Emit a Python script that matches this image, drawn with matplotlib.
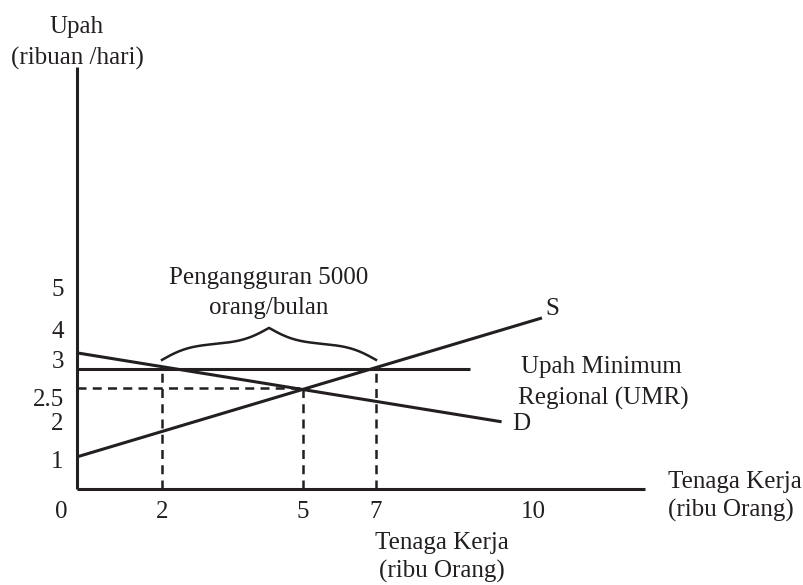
import matplotlib
matplotlib.use("Agg")
import matplotlib.pyplot as plt
from matplotlib.transforms import IdentityTransform
import numpy as np

# nilai yang dibaca dari gambar (ribu orang, ribuan/hari)
umr_wage = 2.88
eq_wage = 2.62
eq_qty = 5
qd_umr = 2
qs_umr = 7

s_qty = [0, 10.2]
s_wage = [1.08, 4.27]
d_qty = [0, 9.4]
d_wage = [3.23, 1.98]
umr_qty = [0, 8.8]

x_ticks = [2, 5, 7, 10]
x_tick_labels = ["2", "5", "7", "10"]
y_ticks = [1, 2, 2.5, 3, 4, 5]
y_tick_labels = ["1", "2", "2.5", "3", "4", "5"]

# skala skematis (jarak tidak seragam seperti di gambar asli), offset piksel dari titik 0
x_anchor_val = [0, 2, 5, 7, 10, 12.5]
x_anchor_px = [0, 85, 226, 299, 456, 568]
y_anchor_val = [0, 1, 2, 2.5, 3, 4, 5, 10]
y_anchor_px = [0, 29, 68, 92, 129, 160, 201, 422]

INK = "#231f20"
FONT = "Liberation Serif"
FS = 18
DPI = 100


def pt(v):
    # piksel -> point
    return v * 72 / DPI


def fx(v):
    return np.interp(v, x_anchor_val, x_anchor_px)


def ix(v):
    return np.interp(v, x_anchor_px, x_anchor_val)


def fy(v):
    return np.interp(v, y_anchor_val, y_anchor_px)


def iy(v):
    return np.interp(v, y_anchor_px, y_anchor_val)


plt.rcParams["font.family"] = [FONT, "DejaVu Serif"]
plt.rcParams["font.size"] = FS
plt.rcParams["text.color"] = INK

fig = plt.figure(figsize=(8.04, 5.85), dpi=DPI)
ax = fig.add_axes([77 / 804, 96 / 585, 568 / 804, 422 / 585])
ax.set_xscale("function", functions=(fx, ix))
ax.set_yscale("function", functions=(fy, iy))
ax.set_xlim(x_anchor_val[0], x_anchor_val[-1])
ax.set_ylim(y_anchor_val[0], y_anchor_val[-1])
ax.set_autoscale_on(False)

for side in ["top", "right"]:
    ax.spines[side].set_visible(False)
for side in ["left", "bottom"]:
    ax.spines[side].set_linewidth(2.2)
    ax.spines[side].set_color(INK)
    ax.spines[side].set_capstyle("butt")

ax.set_xticks(x_ticks, x_tick_labels)
ax.set_yticks(y_ticks, y_tick_labels)
ax.xaxis.set_minor_locator(matplotlib.ticker.NullLocator())
ax.yaxis.set_minor_locator(matplotlib.ticker.NullLocator())
ax.tick_params(axis="x", length=0, pad=9, colors=INK, labelsize=FS)
ax.tick_params(axis="y", length=0, pad=9.5, colors=INK, labelsize=FS)

# kurva S, D dan garis UMR
ax.plot(s_qty, s_wage, color=INK, lw=2.2, solid_capstyle="butt")
ax.plot(d_qty, d_wage, color=INK, lw=2.2, solid_capstyle="butt")
ax.plot(umr_qty, [umr_wage, umr_wage], color=INK, lw=2.2, solid_capstyle="butt")

# garis putus-putus
dash = (0, (3.6, 2.5))
ax.plot([0, eq_qty], [eq_wage, eq_wage], color=INK, lw=1.8, linestyle=dash)
ax.plot([qd_umr, qd_umr], [0, umr_wage], color=INK, lw=1.8, linestyle=dash)
ax.plot([eq_qty, eq_qty], [0, eq_wage], color=INK, lw=1.8, linestyle=dash)
ax.plot([qs_umr, qs_umr], [0, umr_wage], color=INK, lw=1.8, linestyle=dash)

# kurung kurawal pengangguran
p0 = ax.transData.transform((qd_umr, umr_wage))
p1 = ax.transData.transform((qs_umr, umr_wage))
half = (p1[0] - p0[0]) / 2
xs = np.linspace(0, half, 120)
beta = 0.07
ys = 1 / (1 + np.exp(-beta * xs)) + 1 / (1 + np.exp(-beta * (xs - half)))
ys = (ys - ys[0]) / (ys[-1] - ys[0])
bx = np.concatenate([p0[0] + xs, p1[0] - xs[::-1]])
by = np.concatenate([ys, ys[::-1]]) * 32 + p0[1] + 9
ax.plot(bx, by, color=INK, lw=1.8, transform=IdentityTransform(), clip_on=False)
tip = ((p0[0] + p1[0]) / 2, p0[1] + 41)

ax.annotate("Pengangguran 5000", xy=tip, xycoords="figure pixels",
            xytext=(0, pt(44)), textcoords="offset points", ha="center", va="baseline")
ax.annotate("orang/bulan", xy=tip, xycoords="figure pixels",
            xytext=(0, pt(14)), textcoords="offset points", ha="center", va="baseline")

# label kurva
ax.annotate("S", xy=(s_qty[-1], s_wage[-1]), xytext=(pt(3), pt(3)),
            textcoords="offset points", ha="left", va="baseline")
ax.annotate("D", xy=(d_qty[-1], d_wage[-1]), xytext=(pt(11), pt(-8)),
            textcoords="offset points", ha="left", va="baseline")
ax.annotate("Upah Minimum", xy=(umr_qty[-1], umr_wage), xytext=(pt(51), pt(-4)),
            textcoords="offset points", ha="left", va="baseline")
ax.annotate("Regional (UMR)", xy=(umr_qty[-1], umr_wage), xytext=(pt(48), pt(-36)),
            textcoords="offset points", ha="left", va="baseline")

# judul sumbu
ytop = y_anchor_val[-1]
xend = x_anchor_val[-1]
ax.annotate("Upah", xy=(0, ytop), xytext=(0, pt(34)), textcoords="offset points",
            ha="center", va="baseline", annotation_clip=False)
ax.annotate("(ribuan /hari)", xy=(0, ytop), xytext=(0, pt(2)), textcoords="offset points",
            ha="center", va="baseline", annotation_clip=False)
ax.annotate("Tenaga Kerja", xy=(xend, 0), xytext=(pt(23), pt(1)), textcoords="offset points",
            ha="left", va="baseline", annotation_clip=False)
ax.annotate("(ribu Orang)", xy=(xend, 0), xytext=(pt(23), pt(-28)), textcoords="offset points",
            ha="left", va="baseline", annotation_clip=False)
ax.annotate("Tenaga Kerja", xy=(0, 0), xytext=(pt(365), pt(-60)), textcoords="offset points",
            ha="center", va="baseline", annotation_clip=False)
ax.annotate("(ribu Orang)", xy=(0, 0), xytext=(pt(365), pt(-89)), textcoords="offset points",
            ha="center", va="baseline", annotation_clip=False)
ax.annotate("0", xy=(0, 0), xytext=(pt(-16), pt(-29)), textcoords="offset points",
            ha="center", va="baseline", annotation_clip=False)

fig.savefig("out.png", dpi=DPI)
plt.close(fig)
